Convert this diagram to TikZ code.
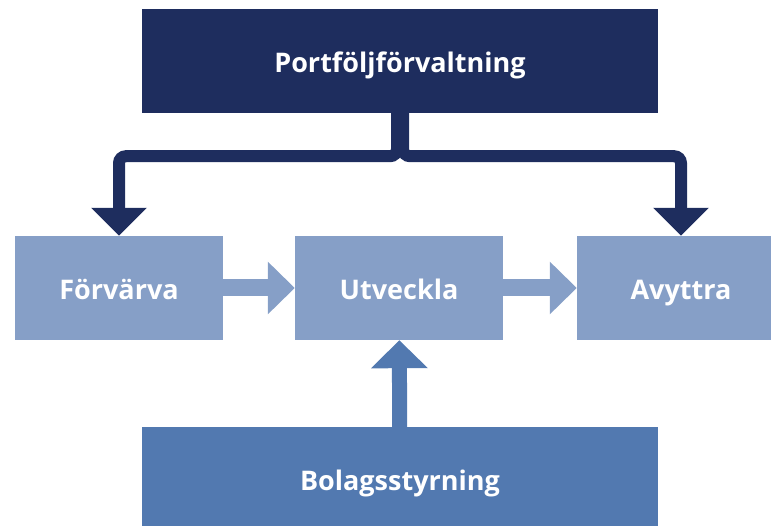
\documentclass[tikz,border=0pt]{standalone}
\usepackage{fontspec}
\setmainfont{Open Sans}
\usepackage{tikz}
\usetikzlibrary{arrows.meta}
\usetikzlibrary{calc}

\definecolor{navy}{RGB}{30,45,94}
\definecolor{light}{RGB}{134,159,199}
\definecolor{mid}{RGB}{82,121,176}

\begin{document}
\begin{tikzpicture}[x=1pt, y=1pt,
 every text node part/.style={align=center},
block/.style={rectangle, inner sep=0pt, minimum width=208pt, minimum height=104pt, text=white, text height=24pt, text depth=0pt, font=\fontsize{27}{32}\selectfont\bfseries},
wideblock/.style={block, minimum width=516pt},
navyarrow/.style={-{Triangle[width=54pt, length=28pt]}, line width=12pt, navy, rounded corners=7pt},
lightarrow/.style={-{Triangle[width=51pt, length=27pt]}, line width=17pt, light},
midarrow/.style={-{Triangle[width=55pt, length=28pt]}, line width=15pt, mid}]

	\useasboundingbox (0,0) rectangle (771,526);
	\clip (0,0) rectangle (771,526);

	\node[wideblock, fill=navy] (portf) at (400,465) {Portföljförvaltning};
	\node[block, fill=light] (forv) at (119,238) {Förvärva};
	\node[block, fill=light] (utv) at (399,238) {Utveckla};
	\node[block, fill=light] (avy) at (681,238) {Avyttra};
	\node[wideblock, fill=mid] (bolag) at (400,47) {Bolagsstyrning};

	\draw[navyarrow] ([xshift=-3pt]portf.south) -- ++(0,-43) -| (forv.north);
	\draw[navyarrow] ([xshift=3pt]portf.south) -- ++(0,-43) -| (avy.north);
	\draw[lightarrow] (forv) -- (utv);
	\draw[lightarrow] (utv) -- (avy);
	\draw[midarrow] (bolag) -- (utv);
\end{tikzpicture}
\end{document}
